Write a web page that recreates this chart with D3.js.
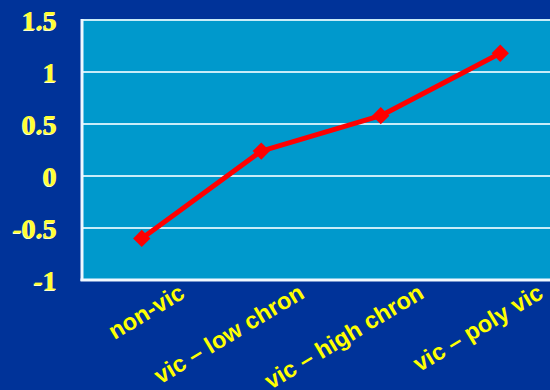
<!DOCTYPE html>
<html><head><meta charset="utf-8">
<script src="https://cdn.jsdelivr.net/npm/d3@7"></script>
<style>html,body{margin:0;padding:0;background:#003399;overflow:hidden}</style>
</head><body>
<svg id="c" width="550" height="390"></svg>
<script>
const categories = ["non-vic", "vic \u2013 low chron", "vic \u2013 high chron", "vic \u2013 poly vic"];
const values = [-0.6, 0.24, 0.58, 1.18];
const yTicks = [-1, -0.5, 0, 0.5, 1, 1.5];
const yTickLabels = ["-1", "-0.5", "0", "0.5", "1", "1.5"];

(function(){
const svg = d3.select("#c");
svg.append("rect").attr("width",550).attr("height",390).attr("fill","#003399");

const pl = 82, pt = 20, pb = 280, pr = 560;
const x = d3.scalePoint().domain(categories).range([pl, pr]).padding(0.5);
const y = d3.scaleLinear().domain([-1, 1.5]).range([pb, pt]);

svg.append("rect").attr("x", pl).attr("y", pt).attr("width", pr-pl).attr("height", pb-pt).attr("fill", "#0099CC");

// gridlines
svg.append("g").selectAll("line").data(yTicks.filter(d => d > -1)).join("line")
  .attr("x1", pl).attr("x2", pr).attr("y1", d => y(d)).attr("y2", d => y(d))
  .attr("stroke", "#C8ECF8").attr("stroke-width", 2);

// axes borders
svg.append("line").attr("x1", pl).attr("x2", pl).attr("y1", pt-1).attr("y2", pb+1).attr("stroke","#F0F8FF").attr("stroke-width",3);
svg.append("line").attr("x1", pl-1.5).attr("x2", pr).attr("y1", pb).attr("y2", pb).attr("stroke","#F0F8FF").attr("stroke-width",3);

// y tick labels
const yAxis = d3.axisLeft(y).tickValues(yTicks).tickFormat((d,i) => yTickLabels[i]).tickSize(0).tickPadding(25);
const gy = svg.append("g").attr("transform", `translate(${pl},0)`).call(yAxis);
gy.select(".domain").remove();
gy.selectAll("text")
  .attr("fill", "#FFFF33")
  .attr("font-family", "Liberation Serif, serif")
  .attr("font-weight", "bold")
  .attr("font-size", 28)
  .attr("dy", "0.34em")
  .style("text-shadow", "-1px 1px 0 #FFFFCC");

// x tick labels
const xAxis = d3.axisBottom(x).tickSize(0).tickPadding(0);
const gx = svg.append("g").attr("transform", `translate(0,${pb})`).call(xAxis);
gx.select(".domain").remove();
gx.selectAll("text")
  .attr("fill", "#FFFF00")
  .attr("font-family", "Liberation Sans, Arial, sans-serif")
  .attr("font-weight", "bold")
  .attr("font-size", 23.5)
  .attr("text-anchor", "end")
  .attr("dy", 0)
  .attr("transform", "translate(44,17) rotate(-31)");

// line
const line = d3.line().x((d,i) => x(categories[i])).y(d => y(d));
svg.append("path").datum(values).attr("d", line).attr("fill","none")
  .attr("stroke","#FF0000").attr("stroke-width",5).attr("stroke-linejoin","round");

// markers
svg.append("g").selectAll("path").data(values).join("path")
  .attr("d", d3.symbol(d3.symbolSquare, 150)())
  .attr("transform", (d,i) => `translate(${x(categories[i])},${y(d)}) rotate(45)`)
  .attr("fill","#FF0000");
})();
</script>
</body></html>
